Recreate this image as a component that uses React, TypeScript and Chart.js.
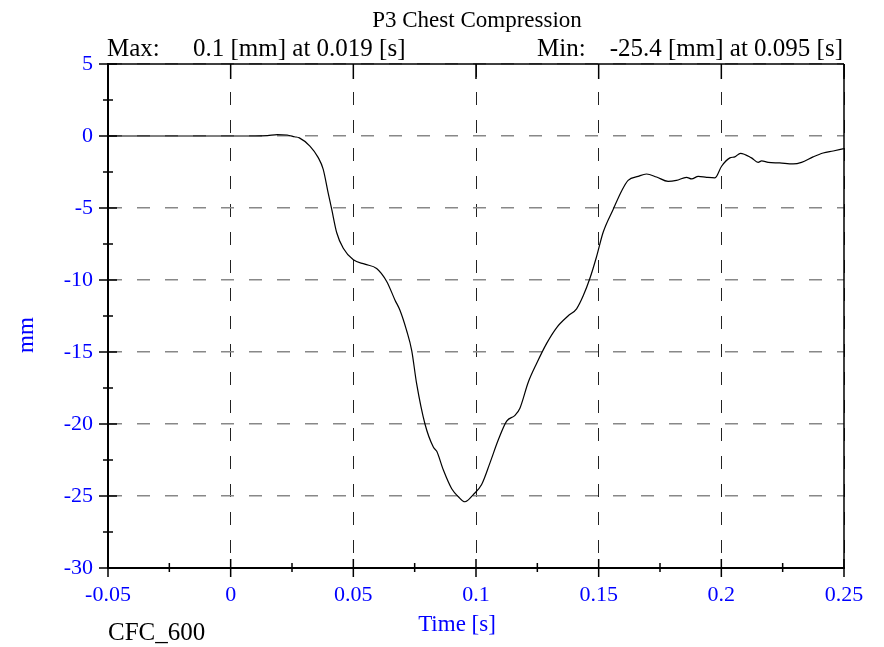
import React, { useEffect, useRef } from "react";
import { Chart, registerables } from "chart.js";

Chart.register(...registerables);

const TITLE = "P3 Chest Compression";
const MAX_LABEL = "Max:";
const MAX_TEXT = "0.1 [mm] at 0.019 [s]";
const MIN_LABEL = "Min:";
const MIN_TEXT = "-25.4 [mm] at 0.095 [s]";
const X_TITLE = "Time [s]";
const Y_TITLE = "mm";
const FILTER_NOTE = "CFC_600";

const X_MIN = -0.05;
const X_MAX = 0.25;
const X_STEP = 0.05;
const Y_MIN = -30;
const Y_MAX = 5;
const Y_STEP = 5;

const TIME = [
  -0.05, -0.03, -0.01, 0.0, 0.01, 0.015, 0.019, 0.023, 0.026, 0.028, 0.0323,
  0.0357, 0.0377, 0.0398, 0.0412, 0.0432, 0.0459, 0.05, 0.0547, 0.0595, 0.0636,
  0.067, 0.069, 0.0717, 0.0738, 0.0758, 0.0792, 0.0826, 0.084, 0.0867, 0.0901,
  0.0928, 0.0955, 0.0989, 0.1023, 0.1057, 0.1091, 0.1125, 0.1159, 0.1179,
  0.1213, 0.1247, 0.1288, 0.1329, 0.1375, 0.141, 0.1437, 0.1464, 0.1491,
  0.1518, 0.1559, 0.1594, 0.162, 0.1661, 0.1695, 0.1736, 0.1783, 0.1817,
  0.1858, 0.1879, 0.1906, 0.194, 0.1974, 0.2001, 0.2035, 0.2055, 0.2078,
  0.2123, 0.215, 0.2164, 0.2191, 0.2238, 0.2293, 0.2327, 0.2374, 0.2415,
  0.2456, 0.25,
];

const DISPLACEMENT = [
  0, 0, 0, 0, 0, 0.03, 0.1, 0.07, -0.05, -0.13, -0.7,
  -1.5, -2.3, -4.0, -5.1, -6.7, -7.8, -8.6, -8.9, -9.2, -10.1,
  -11.4, -12.1, -13.5, -14.9, -17.2, -20.0, -21.6, -21.9, -23.2, -24.5,
  -25.05, -25.4, -24.9, -24.2, -22.7, -21.1, -19.8, -19.4, -18.9,
  -17.1, -15.8, -14.4, -13.3, -12.5, -12.0, -11.1, -9.9, -8.4,
  -6.7, -5.1, -3.8, -3.08, -2.8, -2.64, -2.85, -3.15, -3.08,
  -2.87, -2.98, -2.8, -2.87, -2.91, -2.1, -1.52, -1.45, -1.2,
  -1.52, -1.83, -1.73, -1.83, -1.87, -1.94, -1.83, -1.45, -1.18,
  -1.04, -0.88,
];

const FONT = "'Liberation Serif', 'Times New Roman', serif";
const BLUE = "#0000ff";

const fmt = (v: number) => String(Number(v.toFixed(4)));

const decorPlugin = {
  id: "decor",
  afterDraw(chart: any) {
    const { ctx, chartArea } = chart;
    const { left, right, top, bottom } = chartArea;
    const xs = chart.scales.x;
    const ys = chart.scales.y;
    ctx.save();
    ctx.strokeStyle = "#000";
    ctx.setLineDash([]);

    // frame
    ctx.lineWidth = 1.5;
    ctx.beginPath();
    ctx.moveTo(left, top);
    ctx.lineTo(right, top);
    ctx.moveTo(right, top);
    ctx.lineTo(right, bottom);
    ctx.stroke();
    ctx.lineWidth = 2;
    ctx.beginPath();
    ctx.moveTo(left, top);
    ctx.lineTo(left, bottom);
    ctx.lineTo(right, bottom);
    ctx.stroke();

    // ticks
    ctx.lineWidth = 1.5;
    const xt = xs.ticks.map((t: any) => t.value);
    const yt = ys.ticks.map((t: any) => t.value);
    ctx.beginPath();
    xt.forEach((v: number, i: number) => {
      const p = xs.getPixelForValue(v);
      ctx.moveTo(p, bottom - 9);
      ctx.lineTo(p, bottom + 9);
      ctx.moveTo(p, top);
      ctx.lineTo(p, top + 15);
      if (i < xt.length - 1) {
        const m = xs.getPixelForValue((v + xt[i + 1]) / 2);
        ctx.moveTo(m, bottom - 5);
        ctx.lineTo(m, bottom + 4);
      }
    });
    yt.forEach((v: number, i: number) => {
      const p = ys.getPixelForValue(v);
      ctx.moveTo(left - 9, p);
      ctx.lineTo(left + 9, p);
      if (i < yt.length - 1) {
        const m = ys.getPixelForValue((v + yt[i + 1]) / 2);
        ctx.moveTo(left - 5, m);
        ctx.lineTo(left + 5, m);
      }
    });
    ctx.stroke();

    // texts
    ctx.fillStyle = "#000";
    ctx.textBaseline = "alphabetic";
    ctx.font = `23px ${FONT}`;
    ctx.textAlign = "center";
    ctx.fillText(TITLE, 477, 27);

    ctx.font = `25px ${FONT}`;
    ctx.textAlign = "left";
    ctx.fillText(MAX_LABEL, 107, 56);
    ctx.fillText(MAX_TEXT, 193, 56);
    ctx.fillText(MIN_LABEL, 537, 56);
    ctx.textAlign = "right";
    ctx.fillText(MIN_TEXT, 843, 56);

    ctx.font = `25px ${FONT}`;
    ctx.textAlign = "left";
    ctx.fillText(FILTER_NOTE, 108, 640);

    ctx.fillStyle = BLUE;
    ctx.font = `23px ${FONT}`;
    ctx.textAlign = "center";
    ctx.fillText(X_TITLE, 457, 631);

    ctx.save();
    ctx.translate(33, 335);
    ctx.rotate(-Math.PI / 2);
    ctx.fillText(Y_TITLE, 0, 0);
    ctx.restore();

    ctx.restore();
  },
};

export default function App() {
  const ref = useRef<HTMLCanvasElement | null>(null);
  useEffect(() => {
    if (!ref.current) return;
    const points = TIME.map((t, i) => ({ x: t, y: DISPLACEMENT[i] }));
    const chart = new Chart(ref.current, {
      type: "scatter",
      data: {
        datasets: [
          {
            data: points,
            showLine: true,
            borderColor: "#000",
            borderWidth: 1.2,
            pointRadius: 0,
            cubicInterpolationMode: "monotone",
          },
        ],
      },
      options: {
        animation: false,
        responsive: false,
        devicePixelRatio: 1,
        layout: { padding: { top: 64, right: 40, left: 0, bottom: 0 } },
        plugins: { legend: { display: false }, tooltip: { enabled: false }, title: { display: false } },
        scales: {
          x: {
            type: "linear",
            min: X_MIN,
            max: X_MAX,
            afterFit: (s: any) => {
              s.height = 79;
            },
            ticks: {
              stepSize: X_STEP,
              color: BLUE,
              font: { family: FONT, size: 22 },
              padding: 14,
              maxRotation: 0,
              callback: (v: any) => fmt(Number(v)),
            },
            grid: { color: "#222", lineWidth: 1, drawTicks: false },
            border: { display: true, color: "#000", width: 2, dash: [13, 15] },
          },
          y: {
            type: "linear",
            min: Y_MIN,
            max: Y_MAX,
            afterFit: (s: any) => {
              s.width = 108;
            },
            ticks: {
              stepSize: Y_STEP,
              color: BLUE,
              font: { family: FONT, size: 22 },
              padding: 15,
              callback: (v: any) => fmt(Number(v)),
            },
            grid: { color: "#888", lineWidth: 1.5, drawTicks: false },
            border: { display: true, color: "#000", width: 2, dash: [13, 15] },
          },
        },
      },
      plugins: [decorPlugin],
    });
    return () => chart.destroy();
  }, []);
  return (
    <div style={{ position: "absolute", left: 0, top: 0, width: 884, height: 647, background: "#fff" }}>
      <canvas ref={ref} width={884} height={647} />
    </div>
  );
}
